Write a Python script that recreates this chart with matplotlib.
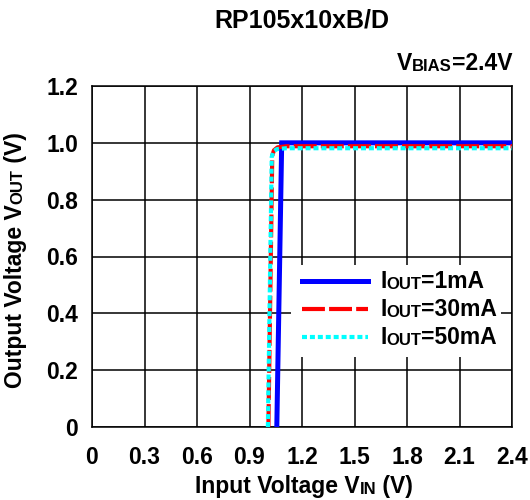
import matplotlib
matplotlib.use('Agg')
import matplotlib.pyplot as plt
from matplotlib.patches import Rectangle
from matplotlib.lines import Line2D

plt.rcParams['font.family'] = ['Liberation Sans', 'DejaVu Sans']
plt.rcParams['font.weight'] = 'bold'

# curves
vin_1 = [1.056, 1.084, 2.4]
vout_1 = [0.0, 1.0, 1.0]
vin_30 = [1.008, 1.03, 1.04, 1.06, 1.11, 2.4]
vout_30 = [0.0, 0.955, 0.974, 0.984, 0.988, 0.988]
vin_50 = [1.005, 1.027, 1.037, 1.057, 1.11, 2.4]
vout_50 = [0.0, 0.95, 0.97, 0.978, 0.981, 0.981]

xticks = [0, 0.3, 0.6, 0.9, 1.2, 1.5, 1.8, 2.1, 2.4]
xlabels = ['0', '0.3', '0.6', '0.9', '1.2', '1.5', '1.8', '2.1', '2.4']
yticks = [0, 0.2, 0.4, 0.6, 0.8, 1.0, 1.2]
ylabels = ['0', '0.2', '0.4', '0.6', '0.8', '1.0', '1.2']
names = ['1mA', '30mA', '50mA']

W, H = 530, 500
BIG, SMALL = 16.5, 12


def fx(px):
    return px / W


def fy(py):
    return 1 - py / H


def rich(fig, x, y, parts, rotation=0, z=8):
    # parts: list of (text, size); draws them one after another on one baseline
    prev = None
    for s, size in parts:
        if prev is None:
            if rotation == 0:
                prev = fig.text(x, y, s, fontsize=size, fontweight='bold',
                                ha='left', va='baseline', zorder=z)
            else:
                prev = fig.text(x, y, s, fontsize=size, fontweight='bold',
                                ha='right', va='bottom', rotation=90, zorder=z)
            prevsize = size
            continue
        d = 0.212 * (prevsize - size)
        if rotation == 0:
            prev = fig.add_artist(plt.Annotation(
                s, xy=(1, 0), xycoords=prev, xytext=(0, d), textcoords='offset points',
                fontsize=size, fontweight='bold', ha='left', va='bottom', zorder=z))
        else:
            prev = fig.add_artist(plt.Annotation(
                s, xy=(1, 1), xycoords=prev, xytext=(-d, 0), textcoords='offset points',
                fontsize=size, fontweight='bold', ha='right', va='bottom',
                rotation=90, zorder=z))
        prevsize = size
    return prev


fig = plt.figure(figsize=(W / 100, H / 100), dpi=100)
ax = fig.add_axes([fx(92), fy(427), fx(512) - fx(92), fy(86) - fy(427)])

ax.plot(vin_1, vout_1, color='#0000ff', lw=3.6, solid_joinstyle='miter', zorder=3)
ax.plot(vin_30, vout_30, color='#ff0000', lw=3.0, dashes=(5.5, 1.0), zorder=4)
ax.plot(vin_50, vout_50, color='#00ffff', lw=3.0, dashes=(1.2, 0.7), zorder=5)

ax.set_xlim(0, 2.4)
ax.set_ylim(0, 1.2)
ax.set_xticks(xticks)
ax.set_xticklabels(xlabels)
ax.set_yticks(yticks)
ax.set_yticklabels(ylabels)
ax.tick_params(length=0, labelsize=BIG)
ax.tick_params(axis='x', pad=14)
ax.tick_params(axis='y', pad=10)
for lab in ax.get_xticklabels() + ax.get_yticklabels():
    lab.set_fontweight('bold')
ax.grid(True, color='black', lw=1.1)
ax.set_axisbelow(True)
for sp in ax.spines.values():
    sp.set_color('black')
    sp.set_linewidth(1.1)

fig.text(fx(302), fy(28), 'RP105x10xB/D', fontsize=18, fontweight='bold',
         ha='center', va='baseline')
rich(fig, fx(397), fy(70), [('V', BIG), ('BIAS', SMALL), ('=2.4V', BIG)])
rich(fig, fx(195), fy(493), [('Input Voltage V', BIG), ('IN', SMALL), (' (V)', BIG)])
rich(fig, fx(27), fy(388), [('Output Voltage V', BIG), ('OUT', SMALL), (' (V)', BIG)],
     rotation=90)

# legend
fig.add_artist(Rectangle((fx(291), fy(357)), fx(501) - fx(291), fy(265) - fy(357),
                         transform=fig.transFigure, facecolor='white',
                         edgecolor='none', zorder=6))
styles = [dict(color='#0000ff', lw=3.6),
          dict(color='#ff0000', lw=3.0, dashes=(5.5, 1.0)),
          dict(color='#00ffff', lw=3.0, dashes=(1.2, 0.7))]
for i, name in enumerate(names):
    ly = 281 + 28 * i
    fig.add_artist(Line2D([fx(302), fx(368)], [fy(ly), fy(ly)],
                          transform=fig.transFigure, zorder=7, **styles[i]))
    rich(fig, fx(380), fy(ly + 7.5), [('I', BIG), ('OUT', SMALL), ('=' + name, BIG)])

fig.savefig('out.png', dpi=100)
